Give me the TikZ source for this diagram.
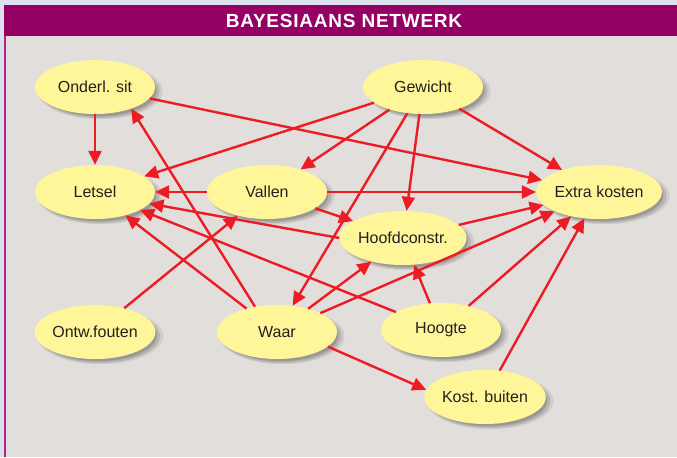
\documentclass[tikz,border=0pt]{standalone}
\usepackage{fontspec}
\setmainfont{Liberation Sans}
\newfontfamily\titlefont{Liberation Sans}[LetterSpace=4]
\usetikzlibrary{shapes.geometric,arrows.meta,shadows}
\definecolor{hdr}{RGB}{148,0,100}
\definecolor{outer}{RGB}{220,225,238}
\definecolor{body}{RGB}{226,222,219}
\definecolor{nodey}{RGB}{255,246,153}
\definecolor{arr}{RGB}{237,28,36}
\definecolor{txt}{RGB}{35,31,32}
\definecolor{edge}{RGB}{170,40,130}
\begin{document}
\begin{tikzpicture}[x=1pt,y=-1pt,
  bn/.style={ellipse, fill=nodey, minimum width=120pt, minimum height=54pt, inner sep=0pt,
    font=\fontsize{16}{18}\selectfont, text=txt,
    general shadow={shadow xshift=5pt, shadow yshift=-4pt, shadow scale=1.04, fill=black, opacity=0.08},
    general shadow={shadow xshift=4.5pt, shadow yshift=-4pt, shadow scale=1.0, fill=black, opacity=0.12},
    general shadow={shadow xshift=4pt, shadow yshift=-3.5pt, shadow scale=0.96, fill=black, opacity=0.15}},
  ed/.style={draw=arr, line width=2.4pt, -{Triangle[length=14pt,width=13pt]}}]
% background
\fill[outer] (0,0) rectangle (677,457);
\fill[body] (5,36) rectangle (677,457);
\fill[hdr] (4,5) rectangle (677,36);
\draw[edge, line width=1.2pt] (5,36) -- (5,457);
\useasboundingbox (0,0) rectangle (677,457);
\node[text=white, font=\titlefont\bfseries\fontsize{19}{20}\selectfont] (title) at (344,21) {BAYESIAANS NETWERK};
% nodes
\node[bn] (onderl) at (95,87) {Onderl. sit};
\node[bn] (gewicht) at (423,87) {Gewicht};
\node[bn] (letsel) at (95,192) {Letsel};
\node[bn] (vallen) at (267,192) {Vallen};
\node[bn] (extra) at (599,192) {Extra kosten};
\node[bn] (hoofd) at (403,238) {Hoofdconstr.};
\node[bn] (ontw) at (95,332) {Ontw.fouten};
\node[bn] (waar) at (277,332) {Waar};
\node[bn] (hoogte) at (441,330) {Hoogte};
\node[bn] (kost) at (485,397) {Kost. buiten};
% edges
\draw[ed] (onderl) -- (letsel);
\draw[ed] (onderl) -- (extra);
\draw[ed] (gewicht) -- (letsel);
\draw[ed] (gewicht) -- (vallen);
\draw[ed] (gewicht) -- (waar);
\draw[ed] (gewicht) -- (hoofd);
\draw[ed] (gewicht) -- (extra);
\draw[ed] (vallen) -- (letsel);
\draw[ed] (vallen) -- (extra);
\draw[ed] (vallen) -- (hoofd);
\draw[ed] (hoofd.180) -- (letsel.-12);
\draw[ed] (hoofd) -- (extra);
\draw[ed] (ontw) -- (vallen);
\draw[ed] (waar.131) -- (onderl.-31);
\draw[ed] (waar) -- (letsel);
\draw[ed] (waar) -- (hoofd);
\draw[ed] (waar) -- (extra);
\draw[ed] (waar.-16) -- (kost.173);
\draw[ed] (hoogte) -- (letsel);
\draw[ed] (hoogte) -- (hoofd);
\draw[ed] (hoogte) -- (extra);
\draw[ed] (kost) -- (extra);
\end{tikzpicture}
\end{document}
